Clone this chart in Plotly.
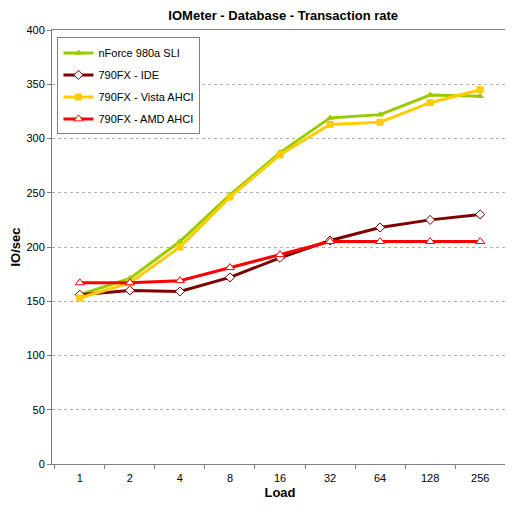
import plotly.graph_objects as go

# Data
loads = ["1", "2", "4", "8", "16", "32", "64", "128", "256"]
nforce_980a = [156, 171, 205, 248, 287, 319, 322, 340, 339]
fx790_ide = [156, 160, 159, 172, 190, 206, 218, 225, 230]
fx790_vista = [153, 167, 200, 246, 285, 313, 315, 333, 345]
fx790_amd = [167, 167, 169, 181, 193, 205, 205, 205, 205]

fig = go.Figure()
fig.add_trace(go.Scatter(x=loads, y=nforce_980a, name="nForce 980a SLI", mode="lines+markers",
                         legendgroup="a",
                         line=dict(color="#99cc00", width=3),
                         marker=dict(symbol="triangle-up", size=7, color="#99cc00")))
fig.add_trace(go.Scatter(x=loads, y=fx790_ide, name="790FX - IDE", mode="lines+markers",
                         legendgroup="b",
                         line=dict(color="#800000", width=3),
                         marker=dict(symbol="diamond", size=7, color="white",
                                     line=dict(color="#800000", width=1))))
fig.add_trace(go.Scatter(x=loads, y=fx790_vista, name="790FX - Vista AHCI", mode="lines+markers",
                         legendgroup="c",
                         line=dict(color="#ffcc00", width=3),
                         marker=dict(symbol="square", size=7, color="#ffcc00")))
fig.add_trace(go.Scatter(x=loads, y=fx790_amd, name="790FX - AMD AHCI", mode="lines+markers",
                         legendgroup="d",
                         line=dict(color="#ff0000", width=3),
                         marker=dict(symbol="triangle-up", size=8, color="white",
                                     line=dict(color="#ff0000", width=1))))

# page body has an 8px margin, so the figure is a bit smaller and shifted
fig.update_layout(
    width=505, height=505,
    margin=dict(l=44, r=5, t=22, b=49, autoexpand=False),
    paper_bgcolor="white", plot_bgcolor="white",
    font=dict(family="Liberation Sans", size=11, color="black"),
    title=dict(text="<b>IOMeter - Database - Transaction rate</b>", x=0.545, y=0.994,
               xanchor="center", yanchor="top", font=dict(size=13)),
    showlegend=True,
    legend=dict(x=0.012, y=0.983, xanchor="left", yanchor="top",
                bordercolor="#808080", borderwidth=1, bgcolor="white",
                font=dict(size=11), tracegroupgap=3, itemwidth=30),
    xaxis=dict(type="category", showgrid=False, showline=True, linecolor="#808080",
               mirror=True, ticks="outside", tickson="boundaries", ticklen=4,
               tickcolor="#808080", automargin=False, ticklabelstandoff=4,
               title=dict(text="<b>Load</b>", standoff=4)),
    yaxis=dict(range=[0, 400], dtick=50, showgrid=True, gridcolor="#b0b0b0",
               griddash="dot", showline=True, linecolor="#808080", mirror=True,
               ticks="outside", ticklen=4, tickcolor="#808080", zeroline=False,
               automargin=False,
               title=dict(text="<b>IO/sec</b>", standoff=10)),
)

fig.write_html("out.html")
